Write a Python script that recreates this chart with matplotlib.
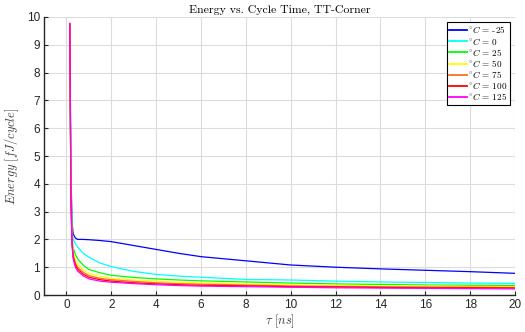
import matplotlib
matplotlib.use('Agg')
import matplotlib.pyplot as plt

# cycle time tau [ns] sample points
tau = [0.15, 0.2, 0.25, 0.3, 0.4, 0.5, 0.75, 1, 1.5, 2, 3, 4, 5, 6, 8, 10, 12, 14, 16, 18, 20]

temps = ['-25', '0', '25', '50', '75', '100', '125']

# energy per cycle [fJ/cycle]
e_m25 = [9.75, 4.5, 2.6, 2.2, 2.05, 2.0, 2.0, 1.99, 1.96, 1.92, 1.78, 1.64, 1.5, 1.38, 1.23, 1.08, 1.0, 0.94, 0.89, 0.84, 0.78]
e_0   = [9.75, 4.0, 2.3, 2.0, 1.85, 1.72, 1.5, 1.36, 1.15, 1.02, 0.85, 0.74, 0.68, 0.64, 0.56, 0.54, 0.5, 0.47, 0.45, 0.43, 0.42]
e_25  = [9.75, 3.8, 2.1, 1.7, 1.45, 1.3, 1.07, 0.92, 0.8, 0.71, 0.63, 0.58, 0.54, 0.51, 0.47, 0.43, 0.4, 0.38, 0.36, 0.35, 0.34]
e_50  = [9.75, 3.7, 2.0, 1.55, 1.25, 1.1, 0.9, 0.78, 0.67, 0.6, 0.54, 0.5, 0.46, 0.44, 0.4, 0.37, 0.35, 0.33, 0.32, 0.31, 0.3]
e_75  = [9.75, 3.6, 1.9, 1.45, 1.15, 1.0, 0.82, 0.7, 0.6, 0.55, 0.49, 0.44, 0.41, 0.39, 0.36, 0.33, 0.31, 0.3, 0.29, 0.28, 0.27]
e_100 = [9.75, 3.5, 1.85, 1.38, 1.08, 0.93, 0.75, 0.64, 0.55, 0.5, 0.44, 0.4, 0.37, 0.35, 0.33, 0.3, 0.29, 0.27, 0.26, 0.26, 0.25]
e_125 = [9.77, 3.4, 1.8, 1.3, 1.0, 0.86, 0.69, 0.58, 0.5, 0.46, 0.41, 0.37, 0.34, 0.32, 0.3, 0.28, 0.26, 0.25, 0.24, 0.23, 0.22]

energy = [e_m25, e_0, e_25, e_50, e_75, e_100, e_125]
colors = ['#0000ff', '#00ffff', '#00ff00', '#ffff00', '#ff6a2a', '#ff0000', '#ff00ff']

plt.rcParams['mathtext.fontset'] = 'cm'
plt.rcParams['font.family'] = ['Liberation Sans', 'DejaVu Sans']

fig = plt.figure(figsize=(5.25, 3.32), dpi=100)
ax = fig.add_axes([0.0838, 0.1114, 0.8972, 0.8374])

for t, e, c in zip(temps, energy, colors):
    ax.plot(tau, e, color=c, linewidth=0.9, label=r'$^{\circ}C$ = ' + t)

ax.set_xlim(-1, 20)
ax.set_ylim(0, 10)
ax.set_xticks(range(0, 21, 2))
ax.set_yticks(range(0, 11))
ax.grid(True, color='#dcdcdc', linewidth=0.8)
ax.set_axisbelow(True)

for s in ['top', 'right']:
    ax.spines[s].set_visible(False)
for s in ['left', 'bottom']:
    ax.spines[s].set_color('#262626')
    ax.spines[s].set_linewidth(1.0)
ax.tick_params(direction='in', length=3, labelsize=8.5, colors='#262626', pad=3)

ax.set_title('Energy vs. Cycle Time, TT-Corner', fontsize=8.5, family='cmr10', pad=3)
ax.set_xlabel(r'$\tau\ [ns]$', fontsize=9, color='#404040', labelpad=1)
ax.set_ylabel(r'$Energy\ [fJ/cycle]$', fontsize=9, color='#404040', labelpad=4)

leg = ax.legend(loc='upper right', prop={'family': 'cmr10', 'size': 6.6},
                fancybox=False, framealpha=1, edgecolor='black',
                handlelength=2.0, handletextpad=0.1, labelspacing=0.02,
                borderpad=0.25, borderaxespad=0.55)
leg.get_frame().set_linewidth(0.8)
for line in leg.get_lines():
    line.set_linewidth(1.3)

plt.savefig('out.png', dpi=100)
